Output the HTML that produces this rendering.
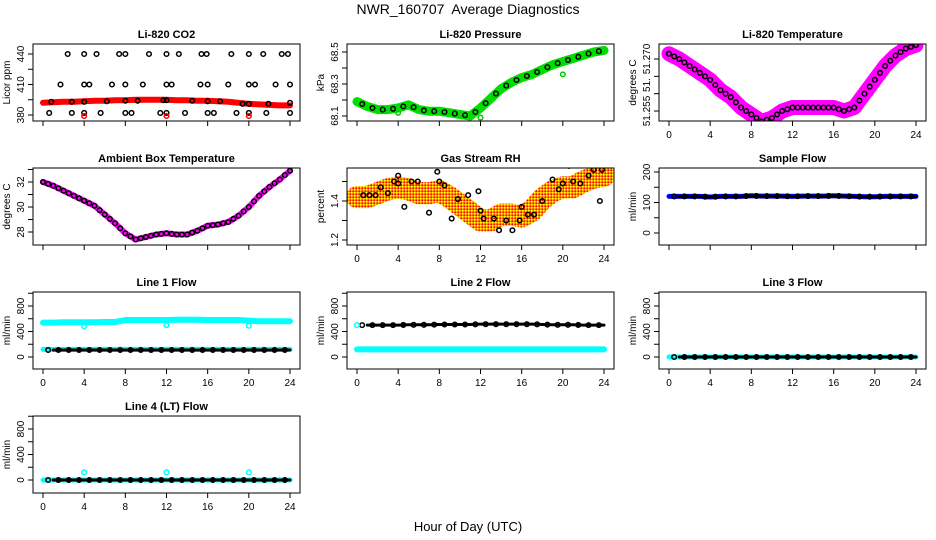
<!DOCTYPE html>
<html><head><meta charset="utf-8"><style>
body{margin:0;background:#fff;}
svg{display:block;font-family:"Liberation Sans",sans-serif;}
</style></head><body>
<svg id="c" width="936" height="540" viewBox="0 0 936 540">
<defs id="defs">
<pattern id="hatch" width="3" height="3" patternUnits="userSpaceOnUse"><rect width="3" height="3" fill="#ff9900"/><rect width="1.5" height="1.5" fill="#ffff00"/><rect x="1.5" y="1.5" width="1.5" height="1.5" fill="#ff0000"/></pattern>
</defs>
<text x="468" y="14" text-anchor="middle" font-size="14">NWR_160707&#160; Average Diagnostics</text>
<text x="468" y="531" text-anchor="middle" font-size="13">Hour of Day (UTC)</text>
</svg>
<script>
const hours=[0,1,2,3,4,5,6,7,8,9,10,11,12,13,14,15,16,17,18,19,20,21,22,23,24];
const co2Band=[392,392.5,393,393,393.5,394,394,394.5,394.5,395,395,395,395,394.5,394.5,394,394,393.5,393,392,391,390.5,390,389.5,389.5];
const co2H440=[2.4,4,5.2,7.4,8,10.3,12,13.2,15.4,15.9,18.3,20,21.4,23.2,23.8];
const co2H410=[1.7,4,4.5,6.7,8,9.7,12,12.5,15.3,16,18,20,20.6,22.6,24];
const co2H395=[0.8,2.8,4,6.2,8,9.2,11.7,12,14.5,16,17.2,19.4,20,21.9,24];
const co2V395=[393,393,393,393.5,394,394,394.5,394.5,394,393.5,393.5,391,391,391,392];
const co2H382=[0.6,2.8,4,5.6,8,8.6,11.4,12,13.8,16,16.6,18.8,20,21.7,24];
const co2RedH=[4,12,20];
const presBand=[68.19,68.16,68.14,68.14,68.15,68.17,68.14,68.13,68.13,68.12,68.11,68.10,68.15,68.21,68.27,68.31,68.34,68.36,68.39,68.42,68.44,68.46,68.48,68.50,68.51];
const presOutH=[4,12,20];const presOutV=[68.12,68.09,68.36];
const tempBand=[51.2715,51.270,51.268,51.266,51.264,51.261,51.259,51.256,51.254,51.252,51.253,51.255,51.256,51.256,51.256,51.256,51.256,51.255,51.256,51.260,51.264,51.268,51.271,51.273,51.274];
const ambBand=[32.0,31.7,31.3,30.9,30.5,30.1,29.4,28.7,27.9,27.4,27.6,27.8,27.9,27.8,27.8,28.1,28.5,28.6,28.8,29.3,30.0,30.9,31.6,32.2,32.9];
const rhBand=[1.42,1.42,1.44,1.46,1.47,1.46,1.44,1.44,1.45,1.42,1.38,1.34,1.30,1.30,1.33,1.33,1.32,1.35,1.41,1.45,1.47,1.47,1.50,1.52,1.53];
const rhPtH=[0.6,1.2,1.8,2.3,3,3.6,4,4,4.6,5.3,5.9,7,7.8,8,8.5,9.2,9.8,10.8,11.8,12,12.3,13.3,13.8,14.5,15.1,15.8,16,16.6,17.2,18,19,19.6,20,20.6,21,21.7,22.5,23,23.6,23.8];
const rhPtV=[1.43,1.43,1.43,1.47,1.44,1.50,1.53,1.49,1.37,1.50,1.50,1.34,1.55,1.50,1.48,1.31,1.41,1.43,1.45,1.35,1.31,1.31,1.25,1.30,1.25,1.30,1.37,1.33,1.33,1.40,1.51,1.46,1.49,1.58,1.50,1.49,1.53,1.56,1.40,1.56];
const sampleFlow=[120,120,120,120,118,120,120,120,122,121,121,121,120,121,121,121,122,121,120,119,119,120,120,120,120];
const line1Cyan=[540,540,545,545,545,545,550,550,580,580,580,580,580,585,585,585,580,580,580,580,570,560,560,560,560];
const line1Black=[110,110,110,110,110,110,110,110,110,110,110,110,110,110,110,110,110,110,110,110,110,110,110,110,110];
const line1OutH=[4,12,20];const line1OutV=[480,500,490];
const line2Black=[500,500,500,500,500,505,505,505,510,510,510,510,515,515,515,515,515,515,510,505,505,505,500,500,500];
const line2Cyan=[120,120,120,120,120,120,120,120,120,120,120,120,120,120,120,120,120,120,120,120,120,120,120,120,120];
const line3Flow=[0,0,0,0,0,0,0,0,0,0,0,0,0,0,0,0,0,0,0,0,0,0,0,0,0];
const line4Flow=[0,0,0,0,0,0,0,0,0,0,0,0,0,0,0,0,0,0,0,0,0,0,0,0,0];
const line4OutH=[4,12,20];const line4OutV=[120,120,120];
const xTicks=[0,4,8,12,16,20,24];

const svg=document.getElementById('c');const NS='http://www.w3.org/2000/svg';
const defs=document.getElementById('defs');
function mk(tag,attrs,parent){const e=document.createElementNS(NS,tag);for(const k in attrs)e.setAttribute(k,attrs[k]);(parent||svg).appendChild(e);return e;}
const colL=[33,347,659],rowT=[44,168,292,416],W=267,H=77;
let pid=0;
function panel(o){
  const g=mk('g',{});
  
  
  const L=colL[o.c],T=rowT[o.r],B=T+H;
  const X=h=>L+10+h*247/24;
  const Y=v=>o.p0+(v-o.v0)*(o.p1-o.p0)/(o.v1-o.v0);
  const t=mk('text',{x:L+W/2,y:T-6,'text-anchor':'middle','font-size':11,'font-weight':'bold'},g);t.textContent=o.title;
  
  
  const yl=mk('text',{x:0,y:0,transform:`translate(${L-23},${T+H/2}) rotate(-90)`,'text-anchor':'middle','font-size':10},g);yl.textContent=o.ylab;
  
  
  o.yt.forEach(v=>{const y=Y(v);if(y<T-1||y>B+1)return;mk('line',{x1:L-5,x2:L,y1:y,y2:y,stroke:'#000'},g);});
  o.yl.forEach((v,i)=>{const y=Y(v);const tx=mk('text',{x:0,y:0,transform:`translate(${L-9},${y}) rotate(-90)`,'text-anchor':'middle','font-size':10},g);tx.textContent=o.ylt?o.ylt[i]:String(v);
    
    });
  xTicks.forEach(h=>{mk('line',{x1:X(h),x2:X(h),y1:B,y2:B+5,stroke:'#000'},g);
    if(o.xl){const tx=mk('text',{x:X(h),y:B+17,'text-anchor':'middle','font-size':10},g);tx.textContent=h;
      
      }});
  const cid='clip'+(pid++);
  const cp=mk('clipPath',{id:cid},defs);mk('rect',{x:L,y:T,width:W,height:H},cp);
  const clip=mk('g',{'clip-path':`url(#${cid})`},g);
  o.draw(clip,X,Y);
  mk('rect',{x:L,y:T,width:W,height:H,fill:'none',stroke:'#000'},g);
}
function band(g,X,Y,hs,vs,col,w,name){
  const p=mk('polyline',{points:hs.map((h,i)=>X(h)+','+Y(vs[i])).join(' '),fill:'none',stroke:col,'stroke-width':w,'stroke-linejoin':'round','stroke-linecap':'round'},g);
  
  
}
function pts(g,X,Y,hs,vs,col,name,r){
  hs.forEach((h,i)=>{const c=mk('circle',{cx:X(h),cy:Y(vs[i]),r:r||2.3,fill:'none',stroke:col,'stroke-width':1.5},g);
    
    });
}
const halfH=hours.slice(0,24).map(h=>h+0.5);
const mid=a=>a.slice(0,24).map((v,i)=>(v+a[i+1])/2);
const flowT=[0,200,400,600,800,1000],flowL=[0,400,800];

panel({name:'co2-panel',title:'Li-820 CO2',ylab:'Licor ppm',c:0,r:0,v0:380,v1:440,p0:115,p1:54,yt:[380,395,410,425,440],yl:[380,410,440],xl:false,draw:(g,X,Y)=>{
  band(g,X,Y,hours,co2Band,'#ff0000',6,'co2-band');
  pts(g,X,Y,co2H440,co2H440.map(()=>440),'#000','co2-point');
  pts(g,X,Y,co2H410,co2H410.map(()=>410),'#000','co2-point');
  pts(g,X,Y,co2H395,co2V395,'#000','co2-point');
  pts(g,X,Y,co2H382,co2H382.map(()=>382),'#000','co2-point');
  pts(g,X,Y,co2RedH,co2RedH.map(()=>379),'#ff0000','co2-outlier');}});
panel({name:'pressure-panel',title:'Li-820 Pressure',ylab:'kPa',c:1,r:0,v0:68.1,v1:68.5,p0:116,p1:52,yt:[68.1,68.2,68.3,68.4,68.5],yl:[68.1,68.3,68.5],xl:false,draw:(g,X,Y)=>{
  band(g,X,Y,hours,presBand,'#00dd00',9,'pressure-band');
  pts(g,X,Y,halfH,mid(presBand),'#000','pressure-point');
  pts(g,X,Y,presOutH,presOutV,'#00cc00','pressure-outlier');}});
panel({name:'temperature-panel',title:'Li-820 Temperature',ylab:'degrees C',c:2,r:0,v0:51.255,v1:51.270,p0:111,p1:59,yt:[51.255,51.26,51.265,51.27,51.275],yl:[51.255,51.2625,51.270],ylt:['51.255','51.','51.270'],xl:true,draw:(g,X,Y)=>{
  band(g,X,Y,hours,tempBand,'#ff00ff',15,'temperature-band');
  pts(g,X,Y,halfH,mid(tempBand),'#000','temperature-point');
  pts(g,X,Y,hours,tempBand,'#000','temperature-point');}});
panel({name:'ambient-temperature-panel',title:'Ambient Box Temperature',ylab:'degrees C',c:0,r:1,v0:28,v1:32,p0:232,p1:182,yt:[28,29,30,31,32,33],yl:[28,30,32],xl:false,draw:(g,X,Y)=>{
  band(g,X,Y,hours,ambBand,'#ff00ff',6,'ambient-band');
  pts(g,X,Y,hours,ambBand,'#000','ambient-point');
  pts(g,X,Y,halfH,mid(ambBand),'#000','ambient-point');}});
panel({name:'rh-panel',title:'Gas Stream RH',ylab:'percent',c:1,r:1,v0:1.2,v1:1.4,p0:240,p1:201,yt:[1.2,1.3,1.4,1.5,1.6],yl:[1.2,1.4],xl:true,draw:(g,X,Y)=>{
  band(g,X,Y,hours,rhBand,'url(#hatch)',22,'rh-band');
  pts(g,X,Y,rhPtH,rhPtV,'#000','rh-point');}});
panel({name:'sample-flow-panel',title:'Sample Flow',ylab:'ml/min',c:2,r:1,v0:0,v1:200,p0:233,p1:172,yt:[0,50,100,150,200],yl:[0,100,200],xl:false,draw:(g,X,Y)=>{
  band(g,X,Y,hours,sampleFlow,'#0000ff',5,'sample-flow-band');
  band(g,X,Y,hours.slice(1),sampleFlow.slice(1),'#000',3,'sample-flow-line');
  pts(g,X,Y,halfH,mid(sampleFlow),'#000','sample-flow-point');}});
panel({name:'line1-flow-panel',title:'Line 1 Flow',ylab:'ml/min',c:0,r:2,v0:0,v1:800,p0:357,p1:306,yt:flowT,yl:flowL,xl:true,draw:(g,X,Y)=>{
  band(g,X,Y,hours,line1Cyan,'#00ffff',6,'line1-cyan-band');
  band(g,X,Y,hours,line1Black.map(v=>v+10),'#00ffff',5,'line1-cyan-low');
  band(g,X,Y,hours.slice(1),line1Black.slice(1),'#000',3,'line1-black-line');
  pts(g,X,Y,halfH,mid(line1Black),'#000','line1-point');
  pts(g,X,Y,line1OutH,line1OutV,'#00ffff','line1-outlier');}});
panel({name:'line2-flow-panel',title:'Line 2 Flow',ylab:'ml/min',c:1,r:2,v0:0,v1:800,p0:357,p1:306,yt:flowT,yl:flowL,xl:true,draw:(g,X,Y)=>{
  band(g,X,Y,hours,line2Cyan,'#00ffff',6,'line2-cyan-band');
  band(g,X,Y,hours.slice(1),line2Black.slice(1),'#000',3,'line2-black-line');
  pts(g,X,Y,halfH,mid(line2Black),'#000','line2-point');
  pts(g,X,Y,[0],[line2Black[0]],'#00ffff','line2-start');}});
panel({name:'line3-flow-panel',title:'Line 3 Flow',ylab:'ml/min',c:2,r:2,v0:0,v1:800,p0:357,p1:306,yt:flowT,yl:flowL,xl:true,draw:(g,X,Y)=>{
  band(g,X,Y,hours,line3Flow,'#00ffff',5,'line3-cyan-band');
  band(g,X,Y,hours.slice(1),line3Flow.slice(1),'#000',3,'line3-black-line');
  pts(g,X,Y,halfH,mid(line3Flow),'#000','line3-point');}});
panel({name:'line4-flow-panel',title:'Line 4 (LT) Flow',ylab:'ml/min',c:0,r:3,v0:0,v1:800,p0:480,p1:429,yt:flowT,yl:flowL,xl:true,draw:(g,X,Y)=>{
  band(g,X,Y,hours,line4Flow,'#00ffff',5,'line4-cyan-band');
  band(g,X,Y,hours.slice(1),line4Flow.slice(1),'#000',3,'line4-black-line');
  pts(g,X,Y,halfH,mid(line4Flow),'#000','line4-point');
  pts(g,X,Y,line4OutH,line4OutV,'#00ffff','line4-outlier');}});
</script>
</body></html>
